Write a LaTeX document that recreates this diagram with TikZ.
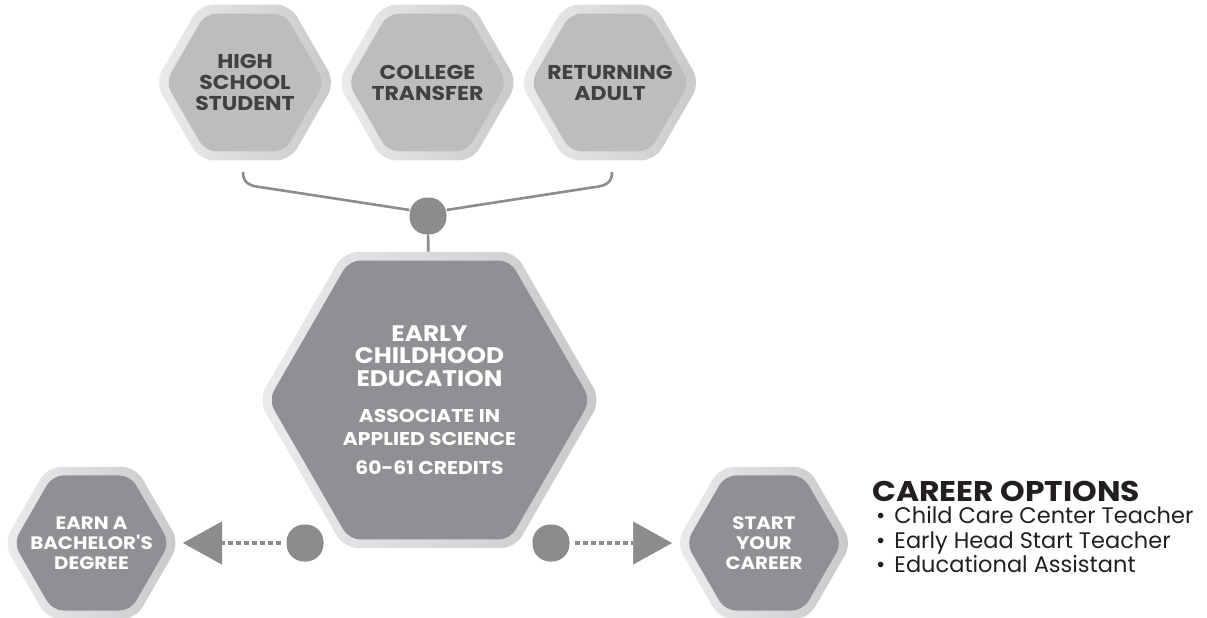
\documentclass[tikz,border=0pt]{standalone}
\usepackage{fontspec}
\setmainfont{Poppins}
\newfontfamily\gotham{Poppins}[FakeStretch=1.1]
\usetikzlibrary{shapes.geometric,positioning,arrows.meta}

\definecolor{rimlight}{HTML}{EAEBEC}
\definecolor{rimdark}{HTML}{C8C9CB}
\definecolor{palegray}{HTML}{BCBDBF}
\definecolor{midgray}{HTML}{8F9093}
\definecolor{dotgray}{HTML}{8B8C8E}
\definecolor{labelgray}{HTML}{414042}
\definecolor{inkblack}{HTML}{231F20}

\newcommand{\subsize}{\fontsize{18.5}{22}\selectfont}
\newcommand{\optbullet}{\hspace{4pt}\textbullet\hspace{9pt}}

\begin{document}
\begin{tikzpicture}[x=1pt,y=-1pt,
    hexrim/.style={regular polygon, regular polygon sides=6, inner sep=0pt,
      minimum size=#1, rounded corners=14pt, left color=rimlight, right color=rimdark},
    hexcore/.style={regular polygon, regular polygon sides=6, inner sep=0pt,
      minimum size=#1, rounded corners=11pt},
    entry/.style={hexcore=159, fill=palegray},
    outcome/.style={hexcore=156, fill=midgray},
    entrytext/.style={align=center, inner sep=0pt, text=labelgray,
      font=\gotham\bfseries\fontsize{20}{21}\selectfont},
    outcometext/.style={align=center, inner sep=0pt, text=white,
      font=\gotham\bfseries\fontsize{18}{20}\selectfont},
    junction/.style={rectangle, rounded corners=17.5pt, minimum size=37pt,
      inner sep=0pt, fill=dotgray},
    bracket/.style={draw=dotgray, line width=2.6pt},
    trail/.style={draw=dotgray, line width=4pt, dash pattern=on 5pt off 3pt,
      shorten <=5pt, -{Triangle[length=39pt,width=43pt,line width=0.5pt]}}]
  \useasboundingbox (0,0) rectangle (1207,618);

  % where students come from
  \node (hsRim) [hexrim=180] at (245,82.5) {};
  \node (hs) [entry] at (hsRim) {};
  \node (hsText) [entrytext] at (hs) {HIGH\\SCHOOL\\STUDENT};
  \node (ctRim) [hexrim=180] at (427.5,82.5) {};
  \node (ct) [entry] at (ctRim) {};
  \node (ctText) [entrytext] at (ct) {COLLEGE\\TRANSFER};
  \node (raRim) [hexrim=180] at (610,82.5) {};
  \node (ra) [entry] at (raRim) {};
  \node (raText) [entrytext] at (ra) {RETURNING\\ADULT};

  \node (joinTop) [junction] at (428,216) {};
  \coordinate (hsFoot) at (243,172);
  \coordinate (raFoot) at (612,172);
  \draw[bracket] (hsFoot) .. controls (243,183) and (249,186) .. (263,187.5) -- (joinTop.162);
  \draw[bracket] (raFoot) .. controls (612,183) and (606,186) .. (592,187.5) -- (joinTop.18);

  % the program
  \node (eceRim) [hexrim=342] at (429.5,400) {};
  \node (ece) [hexcore=322, fill=midgray] at (eceRim) {};
  \node (eceText) [align=center, inner sep=0pt, text=white,
    font=\gotham\bfseries\fontsize{22.5}{22.5}\selectfont] at (ece)
    {EARLY\\CHILDHOOD\\EDUCATION\\[14pt]
     {\subsize ASSOCIATE IN}\\{\subsize APPLIED SCIENCE}\\[7pt]
     {\subsize 60-61 CREDITS}};
  \draw[bracket] (joinTop) -- (eceRim);

  % where it leads
  \node (bachRim) [hexrim=176] at (91.5,543) {};
  \node (bach) [outcome] at (bachRim) {};
  \node (bachText) [outcometext] at (bach) {EARN A\\BACHELOR'S\\DEGREE};
  \node (startRim) [hexrim=176] at (764,543) {};
  \node (start) [outcome] at (startRim) {};
  \node (startText) [outcometext] at (start) {START\\YOUR\\CAREER};

  \node (joinLeft) [junction] at (305,543) {};
  \node (joinRight) [junction] at (551,543) {};
  \coordinate (bachTip) at (183,543);
  \coordinate (startTip) at (672,543);
  \draw[trail] (joinLeft) -- (bachTip);
  \draw[trail] (joinRight) -- (startTip);

  \node (optionsHead) [anchor=base west, inner sep=0pt, text=inkblack,
    font=\gotham\bfseries\fontsize{28.5}{30}\selectfont] at (872,501) {CAREER OPTIONS};
  \node (optionsList) [below=5pt of optionsHead.south west, anchor=north west,
    inner sep=0pt, align=left, text=inkblack, font=\fontsize{22.5}{24.5}\selectfont]
    {\optbullet Child Care Center Teacher\\
     \optbullet Early Head Start Teacher\\
     \optbullet Educational Assistant};
\end{tikzpicture}
\end{document}
